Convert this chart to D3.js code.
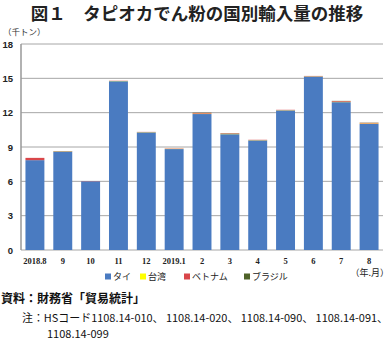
<!DOCTYPE html>
<html><head><meta charset="utf-8">
<script src="https://cdn.jsdelivr.net/npm/d3@7"></script>
<style>
body{margin:0;background:#fff;}
svg{display:block;font-family:"Noto Sans CJK JP","Noto Sans",sans-serif;}
</style></head>
<body>
<svg id="c" width="391" height="340"></svg>
<script>
const months = ["2018.8","9","10","11","12","2019.1","2","3","4","5","6","7","8"];
const seriesNames = ["タイ","台湾","ベトナム","ブラジル"];
const thai    = [7.85, 8.60, 6.00, 14.75, 10.28, 8.82, 11.88, 10.12, 9.58, 12.20, 15.16, 12.92, 11.02];
const taiwan  = [0.00, 0.02, 0.00, 0.02, 0.02, 0.02, 0.04, 0.03, 0.02, 0.02, 0.02, 0.03, 0.04];
const vietnam = [0.20, 0.02, 0.02, 0.02, 0.02, 0.03, 0.06, 0.04, 0.03, 0.03, 0.03, 0.06, 0.05];
const brazil  = [0.00, 0.01, 0.00, 0.00, 0.00, 0.00, 0.02, 0.02, 0.00, 0.00, 0.00, 0.02, 0.02];
const yTicks = [0,3,6,9,12,15,18];
const colors = ["#4a7bc1","#ffff00","#d9464a","#4f6228"];

const svg = d3.select("#c");
const x = d3.scaleBand().domain(months).range([21,383]).paddingInner(0.32).paddingOuter(0.16);
const y = d3.scaleLinear().domain([0,18]).range([250,44]);

// title
svg.append("text").attr("x",197).attr("y",20).attr("text-anchor","middle")
  .attr("font-size",17.5).attr("font-weight","bold").attr("fill","#222")
  .text("図１　タピオカでん粉の国別輸入量の推移");
svg.append("text").attr("x",3).attr("y",35).attr("font-size",8.5).attr("fill","#333").text("（千トン）");

// grid
svg.append("g").selectAll("line").data(yTicks).join("line")
  .attr("x1",21).attr("x2",383).attr("y1",d=>y(d)).attr("y2",d=>y(d))
  .attr("stroke","#a6a6a6").attr("stroke-width",1);

// y axis labels
const ya = svg.append("g").attr("transform","translate(21,0)")
  .call(d3.axisLeft(y).tickValues(yTicks).tickSize(0).tickPadding(8));
ya.select(".domain").remove();
ya.selectAll("text").attr("font-size",9.5).attr("font-weight","bold").attr("fill","#222")
  .attr("font-family","Liberation Sans, Arial, sans-serif");

// stacked bars
const rows = months.map((m,i)=>({m, "タイ":thai[i], "台湾":taiwan[i], "ベトナム":vietnam[i], "ブラジル":brazil[i]}));
const stack = d3.stack().keys(seriesNames)(rows);
svg.append("g").selectAll("g").data(stack).join("g").attr("fill",(d,i)=>colors[i])
  .selectAll("rect").data(d=>d).join("rect")
  .attr("x",d=>x(d.data.m)).attr("width",x.bandwidth())
  .attr("y",d=>y(d[1])).attr("height",d=>Math.max(0,y(d[0])-y(d[1])));

// left axis line
svg.append("line").attr("x1",21).attr("x2",21).attr("y1",y(18)).attr("y2",y(0))
  .attr("stroke","#999").attr("stroke-width",1.5);

// x axis labels
const xa = svg.append("g").attr("transform","translate(0,250)")
  .call(d3.axisBottom(x).tickSize(0).tickPadding(8));
xa.select(".domain").remove();
xa.selectAll("text").attr("font-size",8.5).attr("font-weight","bold").attr("fill","#222")
  .attr("font-family","Liberation Serif, serif");
svg.append("text").attr("x",389).attr("y",276).attr("text-anchor","end")
  .attr("font-size",9).attr("fill","#222").text("（年.月）");

// legend
const lx = [105,140,184,244];
const lg = svg.append("g").selectAll("g").data(seriesNames).join("g")
  .attr("transform",(d,i)=>`translate(${lx[i]},280)`);
lg.append("rect").attr("x",0).attr("y",-6.5).attr("width",6).attr("height",6).attr("fill",(d,i)=>colors[i]);
lg.append("text").attr("x",8).attr("y",0).attr("font-size",9).attr("fill","#222").text(d=>d);

// notes
svg.append("text").attr("x",1).attr("y",303).attr("font-size",12).attr("font-weight","bold").attr("fill","#111")
  .text("資料：財務省「貿易統計」");
svg.append("text").attr("x",22).attr("y",322).attr("font-size",11).attr("fill","#111")
  .attr("textLength",366).attr("lengthAdjust","spacingAndGlyphs")
  .text("注：HSコード1108.14-010、 1108.14-020、 1108.14-090、 1108.14-091、");
svg.append("text").attr("x",47).attr("y",338).attr("font-size",11).attr("fill","#111")
  .text("1108.14-099");
</script>
</body></html>
